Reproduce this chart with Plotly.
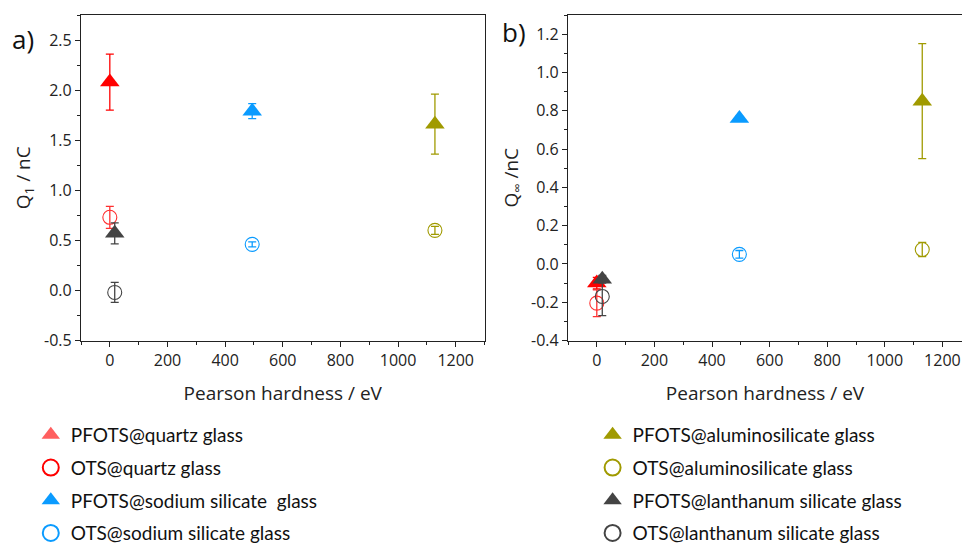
import plotly.graph_objects as go

# ---------------- data ----------------
series_names = [
    "PFOTS@quartz glass", "OTS@quartz glass",
    "PFOTS@sodium silicate  glass", "OTS@sodium silicate glass",
    "PFOTS@aluminosilicate glass", "OTS@aluminosilicate glass",
    "PFOTS@lanthanum silicate glass", "OTS@lanthanum silicate glass",
]
hardness = [0, 0, 494, 494, 1128, 1128, 17, 17]
hardness_b = [0, 0, 495, 495, 1130, 1130, 19, 19]

q1 = [2.08, 0.73, 1.79, 0.46, 1.66, 0.60, 0.57, -0.02]
q1_err = [0.28, 0.11, 0.075, 0.025, 0.30, 0.04, 0.105, 0.10]

qinf = [-0.10, -0.205, 0.76, 0.05, 0.85, 0.075, -0.08, -0.17]
qinf_err = [0.03, 0.07, 0.01, 0.02, 0.30, 0.037, 0.02, 0.10]

colors = ["#FF0000", "#FF3030", "#0A9BFF", "#0A9BFF",
          "#A09A00", "#A09A00", "#444444", "#444444"]
legend_colors = ["#FF5F5F", "#FF0000", "#0A9BFF", "#0A9BFF",
                 "#A09A00", "#A09A00", "#444444", "#444444"]
symbols = ["triangle-up", "circle-open", "triangle-up", "circle-open",
           "triangle-up", "circle-open", "triangle-up", "circle-open"]
legend_ids = ["legend", "legend", "legend", "legend",
              "legend2", "legend2", "legend2", "legend2"]

x_ticks = [0, 200, 400, 600, 800, 1000, 1200]
y1_ticks = [-0.5, 0.0, 0.5, 1.0, 1.5, 2.0, 2.5]
y1_labels = ["-0.5", "0.0", "0.5", "1.0", "1.5", "2.0", "2.5"]
y2_ticks = [-0.4, -0.2, 0.0, 0.2, 0.4, 0.6, 0.8, 1.0, 1.2]
y2_labels = ["-0.4", "-0.2", "0.0", "0.2", "0.4", "0.6", "0.8", "1.0", "1.2"]

fig = go.Figure()

for i, name in enumerate(series_names):
    is_open = symbols[i] == "circle-open"
    marker = dict(symbol=symbols[i], color=colors[i],
                  size=14 if is_open else 17,
                  line=dict(width=1.1 if is_open else 0, color=colors[i]))
    err_style = dict(type="data", thickness=1.3, width=4, color=colors[i])
    fig.add_trace(go.Scatter(
        x=[hardness[i]], y=[q1[i]], mode="markers", name=name,
        marker=marker, error_y=dict(array=[q1_err[i]], **err_style),
        xaxis="x", yaxis="y", showlegend=False))
    fig.add_trace(go.Scatter(
        x=[hardness_b[i]], y=[qinf[i]], mode="markers", name=name,
        marker=marker, error_y=dict(array=[qinf_err[i]], **err_style),
        xaxis="x2", yaxis="y2", showlegend=False))
    # legend-only entry (larger legend symbol as in the reference)
    fig.add_trace(go.Scatter(
        x=[None], y=[None], mode="markers", name=name,
        marker=dict(symbol=symbols[i], color=legend_colors[i], size=16,
                    line=dict(width=2 if is_open else 0, color=legend_colors[i])),
        xaxis="x", yaxis="y", legend=legend_ids[i],
        legendgroup=f"g{i}", showlegend=True, hoverinfo="skip"))

tickfont = dict(family="Open Sans", size=16, color="#222222")
titlefont = dict(family="Open Sans", size=19, color="#222222")

ydom = [1 - 340.5 / 544, 1 - 15 / 544]

axis_common = dict(showline=True, linecolor="#222222", linewidth=1.3,
                   ticks="outside", ticklen=5, tickwidth=1.3, tickcolor="#222222",
                   showgrid=False, zeroline=False, tickfont=tickfont,
                   automargin=False)

fig.update_layout(
    width=962, height=544,
    margin=dict(l=0, r=0, t=0, b=0, autoexpand=False),
    paper_bgcolor="white", plot_bgcolor="white",
    xaxis=dict(domain=[81 / 962, 484.5 / 962], range=[-100, 1300],
               tickvals=x_ticks, mirror=True,
               minor=dict(ticks="outside", ticklen=3, dtick=100, tick0=0,
                          tickcolor="#222222", tickwidth=1.3, showgrid=False),
               title=dict(text="Pearson hardness / eV", font=titlefont, standoff=16),
               anchor="y", **axis_common),
    yaxis=dict(domain=ydom, range=[-0.5, 2.75],
               tickvals=y1_ticks, ticktext=y1_labels, mirror=True,
               minor=dict(ticks="outside", ticklen=3, dtick=0.25, tick0=0,
                          tickcolor="#222222", tickwidth=1.3, showgrid=False),
               title=dict(text="Q<sub>1</sub> / nC", font=titlefont, standoff=8),
               anchor="x", **axis_common),
    xaxis2=dict(domain=[568 / 962, 1.0], range=[-100, 1268],
                tickvals=x_ticks, mirror=True,
                minor=dict(ticks="outside", ticklen=3, dtick=100, tick0=0,
                           tickcolor="#222222", tickwidth=1.3, showgrid=False),
                title=dict(text="Pearson hardness / eV", font=titlefont, standoff=16),
                anchor="y2", **axis_common),
    yaxis2=dict(domain=ydom, range=[-0.4, 1.3],
                tickvals=y2_ticks, ticktext=y2_labels, mirror=False,
                minor=dict(ticks="outside", ticklen=3, dtick=0.1, tick0=0,
                           tickcolor="#222222", tickwidth=1.3, showgrid=False),
                title=dict(text="Q<sub>∞</sub> /nC", font=titlefont, standoff=7),
                anchor="x2", **axis_common),
    legend=dict(x=0.032, y=1 - 416 / 544, xanchor="left", yanchor="top",
                font=dict(family="Lato", size=19, color="#111111"),
                tracegroupgap=5, bgcolor="rgba(0,0,0,0)"),
    legend2=dict(x=0.616, y=1 - 416 / 544, xanchor="left", yanchor="top",
                 font=dict(family="Lato", size=19, color="#111111"),
                 tracegroupgap=5, bgcolor="rgba(0,0,0,0)"),
    annotations=[
        dict(text="a)", xref="paper", yref="paper", x=10 / 962, y=1 - 39 / 544,
             xanchor="left", yanchor="middle", showarrow=False,
             font=dict(family="Open Sans", size=26, color="#111111")),
        dict(text="b)", xref="paper", yref="paper", x=500 / 962, y=1 - 32 / 544,
             xanchor="left", yanchor="middle", showarrow=False,
             font=dict(family="Open Sans", size=26, color="#111111")),
    ],
)

fig.write_html("out.html", config={"displayModeBar": False},
               post_script="document.body.style.margin='0';document.body.style.overflow='hidden';")
